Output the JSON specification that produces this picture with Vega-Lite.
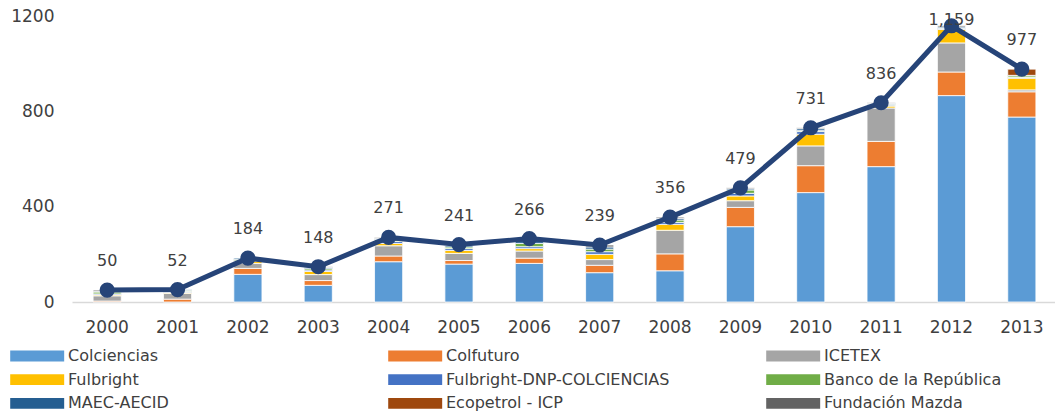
{
  "$schema": "https://vega.github.io/schema/vega-lite/v6.json",
  "width": 985,
  "height": 286,
  "autosize": {"type": "none"},
  "padding": {"left": 72, "top": 16, "right": 0, "bottom": 113},
  "background": "white",
  "config": {"view": {"stroke": null}, "font": "DejaVu Sans"},
  "datasets": {
    "src": [
      {"year": "2002", "source": "Colciencias", "n": 116},
      {"year": "2003", "source": "Colciencias", "n": 70},
      {"year": "2004", "source": "Colciencias", "n": 169},
      {"year": "2005", "source": "Colciencias", "n": 159},
      {"year": "2006", "source": "Colciencias", "n": 162},
      {"year": "2007", "source": "Colciencias", "n": 123},
      {"year": "2008", "source": "Colciencias", "n": 131},
      {"year": "2009", "source": "Colciencias", "n": 316},
      {"year": "2010", "source": "Colciencias", "n": 459},
      {"year": "2011", "source": "Colciencias", "n": 568},
      {"year": "2012", "source": "Colciencias", "n": 866},
      {"year": "2013", "source": "Colciencias", "n": 776},
      {"year": "2000", "source": "Colfuturo", "n": 4},
      {"year": "2001", "source": "Colfuturo", "n": 12},
      {"year": "2002", "source": "Colfuturo", "n": 25},
      {"year": "2003", "source": "Colfuturo", "n": 20},
      {"year": "2004", "source": "Colfuturo", "n": 24},
      {"year": "2005", "source": "Colfuturo", "n": 15},
      {"year": "2006", "source": "Colfuturo", "n": 22},
      {"year": "2007", "source": "Colfuturo", "n": 31},
      {"year": "2008", "source": "Colfuturo", "n": 71},
      {"year": "2009", "source": "Colfuturo", "n": 81},
      {"year": "2010", "source": "Colfuturo", "n": 113},
      {"year": "2011", "source": "Colfuturo", "n": 106},
      {"year": "2012", "source": "Colfuturo", "n": 99},
      {"year": "2013", "source": "Colfuturo", "n": 106},
      {"year": "2000", "source": "ICETEX", "n": 22},
      {"year": "2001", "source": "ICETEX", "n": 24},
      {"year": "2002", "source": "ICETEX", "n": 21},
      {"year": "2003", "source": "ICETEX", "n": 25},
      {"year": "2004", "source": "ICETEX", "n": 43},
      {"year": "2005", "source": "ICETEX", "n": 30},
      {"year": "2006", "source": "ICETEX", "n": 30},
      {"year": "2007", "source": "ICETEX", "n": 24},
      {"year": "2008", "source": "ICETEX", "n": 99},
      {"year": "2009", "source": "ICETEX", "n": 28},
      {"year": "2010", "source": "ICETEX", "n": 83},
      {"year": "2011", "source": "ICETEX", "n": 140},
      {"year": "2012", "source": "ICETEX", "n": 122},
      {"year": "2013", "source": "ICETEX", "n": 8},
      {"year": "2000", "source": "Fulbright", "n": 4},
      {"year": "2001", "source": "Fulbright", "n": 4},
      {"year": "2002", "source": "Fulbright", "n": 8},
      {"year": "2003", "source": "Fulbright", "n": 13},
      {"year": "2004", "source": "Fulbright", "n": 10},
      {"year": "2005", "source": "Fulbright", "n": 12},
      {"year": "2006", "source": "Fulbright", "n": 10},
      {"year": "2007", "source": "Fulbright", "n": 22},
      {"year": "2008", "source": "Fulbright", "n": 25},
      {"year": "2009", "source": "Fulbright", "n": 20},
      {"year": "2010", "source": "Fulbright", "n": 49},
      {"year": "2011", "source": "Fulbright", "n": 8},
      {"year": "2012", "source": "Fulbright", "n": 57},
      {"year": "2013", "source": "Fulbright", "n": 49},
      {"year": "2000", "source": "Fulbright-DNP-COLCIENCIAS", "n": 4},
      {"year": "2001", "source": "Fulbright-DNP-COLCIENCIAS", "n": 4},
      {"year": "2002", "source": "Fulbright-DNP-COLCIENCIAS", "n": 3},
      {"year": "2003", "source": "Fulbright-DNP-COLCIENCIAS", "n": 6},
      {"year": "2004", "source": "Fulbright-DNP-COLCIENCIAS", "n": 8},
      {"year": "2005", "source": "Fulbright-DNP-COLCIENCIAS", "n": 8},
      {"year": "2006", "source": "Fulbright-DNP-COLCIENCIAS", "n": 8},
      {"year": "2007", "source": "Fulbright-DNP-COLCIENCIAS", "n": 11},
      {"year": "2008", "source": "Fulbright-DNP-COLCIENCIAS", "n": 8},
      {"year": "2009", "source": "Fulbright-DNP-COLCIENCIAS", "n": 11},
      {"year": "2010", "source": "Fulbright-DNP-COLCIENCIAS", "n": 11},
      {"year": "2011", "source": "Fulbright-DNP-COLCIENCIAS", "n": 4},
      {"year": "2012", "source": "Fulbright-DNP-COLCIENCIAS", "n": 3},
      {"year": "2013", "source": "Fulbright-DNP-COLCIENCIAS", "n": 3},
      {"year": "2000", "source": "Banco de la República", "n": 8},
      {"year": "2001", "source": "Banco de la República", "n": 5},
      {"year": "2002", "source": "Banco de la República", "n": 6},
      {"year": "2003", "source": "Banco de la República", "n": 6},
      {"year": "2004", "source": "Banco de la República", "n": 8},
      {"year": "2005", "source": "Banco de la República", "n": 7},
      {"year": "2006", "source": "Banco de la República", "n": 14},
      {"year": "2007", "source": "Banco de la República", "n": 11},
      {"year": "2008", "source": "Banco de la República", "n": 10},
      {"year": "2009", "source": "Banco de la República", "n": 14},
      {"year": "2010", "source": "Banco de la República", "n": 4},
      {"year": "2011", "source": "Banco de la República", "n": 3},
      {"year": "2012", "source": "Banco de la República", "n": 2},
      {"year": "2013", "source": "Banco de la República", "n": 7},
      {"year": "2000", "source": "MAEC-AECID", "n": 3},
      {"year": "2001", "source": "MAEC-AECID", "n": 3},
      {"year": "2002", "source": "MAEC-AECID", "n": 5},
      {"year": "2003", "source": "MAEC-AECID", "n": 5},
      {"year": "2004", "source": "MAEC-AECID", "n": 5},
      {"year": "2005", "source": "MAEC-AECID", "n": 6},
      {"year": "2006", "source": "MAEC-AECID", "n": 12},
      {"year": "2007", "source": "MAEC-AECID", "n": 9},
      {"year": "2008", "source": "MAEC-AECID", "n": 7},
      {"year": "2009", "source": "MAEC-AECID", "n": 5},
      {"year": "2010", "source": "MAEC-AECID", "n": 8},
      {"year": "2011", "source": "MAEC-AECID", "n": 4},
      {"year": "2012", "source": "MAEC-AECID", "n": 5},
      {"year": "2013", "source": "MAEC-AECID", "n": 2},
      {"year": "2013", "source": "Ecopetrol - ICP", "n": 26},
      {"year": "2000", "source": "Fundación Mazda", "n": 5},
      {"year": "2003", "source": "Fundación Mazda", "n": 3},
      {"year": "2004", "source": "Fundación Mazda", "n": 4},
      {"year": "2005", "source": "Fundación Mazda", "n": 4},
      {"year": "2006", "source": "Fundación Mazda", "n": 8},
      {"year": "2007", "source": "Fundación Mazda", "n": 8},
      {"year": "2008", "source": "Fundación Mazda", "n": 5},
      {"year": "2009", "source": "Fundación Mazda", "n": 4},
      {"year": "2010", "source": "Fundación Mazda", "n": 4},
      {"year": "2011", "source": "Fundación Mazda", "n": 3},
      {"year": "2012", "source": "Fundación Mazda", "n": 5}
    ],
    "tot": [
      {"year": "2000", "total": 50},
      {"year": "2001", "total": 52},
      {"year": "2002", "total": 184},
      {"year": "2003", "total": 148},
      {"year": "2004", "total": 271},
      {"year": "2005", "total": 241},
      {"year": "2006", "total": 266},
      {"year": "2007", "total": 239},
      {"year": "2008", "total": 356},
      {"year": "2009", "total": 479},
      {"year": "2010", "total": 731},
      {"year": "2011", "total": 836},
      {"year": "2012", "total": 1159},
      {"year": "2013", "total": 977}
    ]
  },
  "layer": [
    {
      "data": {"name": "src"},
      "transform": [
        {"calculate": "indexof(['Colciencias','Colfuturo','ICETEX','Fulbright','Fulbright-DNP-COLCIENCIAS','Banco de la República','MAEC-AECID','Ecopetrol - ICP','Fundación Mazda'], datum.source)", "as": "stackRank"}
      ],
      "mark": {"type": "bar", "stroke": "white", "strokeWidth": 0.8},
      "encoding": {
        "x": {
          "field": "year", "type": "ordinal",
          "scale": {"paddingInner": 0.6, "paddingOuter": 0.3},
          "axis": {"title": null, "labelAngle": 0, "ticks": false, "grid": false, "domainColor": "#d9d9d9", "domainWidth": 1.5, "labelPadding": 17, "labelFontSize": 17, "labelColor": "#404040", "labelFont": "DejaVu Sans"}
        },
        "y": {
          "field": "n", "type": "quantitative", "stack": "zero",
          "scale": {"domain": [0, 1200]},
          "axis": {"title": null, "values": [0, 400, 800, 1200], "format": "d", "domain": false, "ticks": false, "grid": false, "labelPadding": 18, "labelFontSize": 17, "labelColor": "#404040", "labelFont": "DejaVu Sans"}
        },
        "color": {
          "field": "source", "type": "nominal",
          "scale": {
            "domain": ["Colciencias", "Colfuturo", "ICETEX", "Fulbright", "Fulbright-DNP-COLCIENCIAS", "Banco de la República", "MAEC-AECID", "Ecopetrol - ICP", "Fundación Mazda"],
            "range": ["#5B9BD5", "#ED7D31", "#A5A5A5", "#FFC000", "#4472C4", "#70AD47", "#255E91", "#9E480E", "#636363"]
          },
          "legend": {
            "title": null, "orient": "none", "legendX": -62, "legendY": 329,
            "direction": "horizontal", "columns": 3, "gridAlign": "all",
            "columnPadding": 96, "rowPadding": 4.7,
            "symbolType": "M-1,-0.5H4V0.5H-1Z", "symbolSize": 466, "symbolStrokeWidth": 0, "symbolOpacity": 1,
            "labelOffset": 36, "labelFontSize": 16, "labelColor": "#404040", "labelFont": "DejaVu Sans", "labelLimit": 400
          }
        },
        "order": {"field": "stackRank", "type": "quantitative", "sort": "ascending"}
      }
    },
    {
      "data": {"name": "tot"},
      "mark": {"type": "line", "color": "#264478", "strokeWidth": 5},
      "encoding": {
        "x": {"field": "year", "type": "ordinal"},
        "y": {"field": "total", "type": "quantitative", "scale": {"domain": [0, 1200]}, "axis": null}
      }
    },
    {
      "data": {"name": "tot"},
      "mark": {"type": "point", "filled": true, "opacity": 1, "color": "#264478", "size": 230},
      "encoding": {
        "x": {"field": "year", "type": "ordinal"},
        "y": {"field": "total", "type": "quantitative", "scale": {"domain": [0, 1200]}, "axis": null}
      }
    },
    {
      "data": {"name": "tot"},
      "mark": {"type": "text", "dy": 4, "fontSize": 16, "color": "#404040", "baseline": "middle", "font": "DejaVu Sans"},
      "encoding": {
        "x": {"field": "year", "type": "ordinal"},
        "y": {"field": "total", "type": "quantitative", "scale": {"domain": [-138.5, 1061.5], "clamp": true}, "axis": null},
        "text": {"field": "total", "type": "quantitative", "format": ","}
      }
    }
  ],
  "resolve": {"scale": {"y": "independent"}}
}
